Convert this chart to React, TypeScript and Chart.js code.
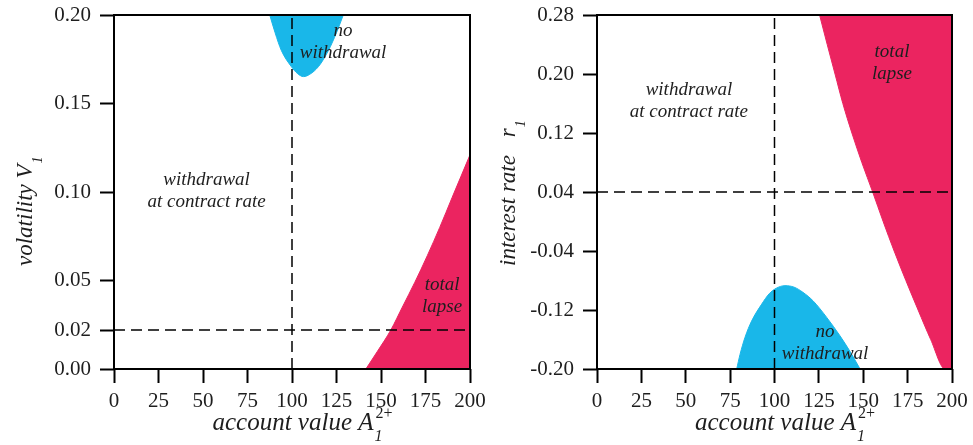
import React, { useEffect, useRef } from "react";
import { Chart, registerables } from "chart.js";

Chart.register(...registerables);

const BLUE = "#19b7e9";
const RED = "#eb2460";
const TEXT = "#1e1e1e";
const SERIF = "'Liberation Serif', 'Times New Roman', serif";

// axes
const xTicks = [0, 25, 50, 75, 100, 125, 150, 175, 200];
const leftYTicks = [0, 0.022, 0.05, 0.1, 0.15, 0.2];
const rightYTicks = [-0.2, -0.12, -0.04, 0.04, 0.12, 0.2, 0.28];

// reference (dashed) lines
const leftRefX = 100;
const leftRefY = 0.022;
const rightRefX = 100;
const rightRefY = 0.04;

// left panel regions (volatility)
const leftNoWithdrawalX = [87.5, 90.5, 94, 99.5, 103, 106.5, 110, 115, 120.5, 125, 128.8];
const leftNoWithdrawalY = [0.2, 0.19, 0.18, 0.171, 0.167, 0.1652, 0.1665, 0.171, 0.18, 0.19, 0.2];
const leftLapseX = [141.5, 148, 155.5, 162, 169, 176, 183, 190, 195, 200];
const leftLapseY = [0, 0.01, 0.022, 0.035, 0.049, 0.064, 0.08, 0.097, 0.109, 0.121];

// right panel regions (interest rate)
const rightNoWithdrawalX = [78.7, 80.6, 83.4, 87.1, 92.8, 97, 101, 105.9, 111, 116, 121.9, 129.4, 136.9, 142.5, 148.2];
const rightNoWithdrawalY = [-0.2, -0.18, -0.157, -0.135, -0.112, -0.098, -0.0905, -0.087, -0.089, -0.096, -0.108, -0.13, -0.155, -0.176, -0.2];
const rightLapseX = [125.4, 129.7, 134.1, 138.5, 143.6, 149.2, 155.3, 161.2, 167.4, 174, 180.9, 188, 196.1, 200];
const rightLapseY = [0.28, 0.24, 0.2, 0.16, 0.12, 0.08, 0.04, 0, -0.04, -0.08, -0.12, -0.16, -0.2, -0.2];

// region labels
const leftLabels = [
  { lines: ["withdrawal", "at contract rate"], x: 52, y: 0.1006 },
  { lines: ["no", "withdrawal"], x: 128.7, y: 0.1847 },
  { lines: ["total", "lapse"], x: 184.3, y: 0.041 },
];
const rightLabels = [
  { lines: ["withdrawal", "at contract rate"], x: 51.8, y: 0.163 },
  { lines: ["total", "lapse"], x: 166.2, y: 0.2154 },
  { lines: ["no", "withdrawal"], x: 128.5, y: -0.1653 },
];

type Panel = {
  yMin: number;
  yMax: number;
  yTicks: number[];
  refX: number;
  refY: number;
  noWdX: number[];
  noWdY: number[];
  noWdFill: string;
  lapseX: number[];
  lapseY: number[];
  lapseFill: string;
  labels: { lines: string[]; x: number; y: number }[];
  yTitle: string;
  ySym: string;
  yGap: number;
  yAxisWidth: number;
  padRight: number;
};

function pts(xs: number[], ys: number[]) {
  return xs.map((x, i) => ({ x, y: ys[i] }));
}

function drawMath(
  ctx: CanvasRenderingContext2D,
  x: number,
  y: number,
  main: string,
  sym: string,
  sub: string,
  sup: string | null,
  size: number,
  center: boolean,
  gap: number
) {
  const mainFont = `italic ${size}px ${SERIF}`;
  const smallSize = Math.round(size * 0.62);
  const subFont = `italic ${smallSize}px ${SERIF}`;
  const supFont = `${smallSize}px ${SERIF}`;
  ctx.font = mainFont;
  const wMain = ctx.measureText(main).width + gap;
  const wSym = ctx.measureText(sym).width;
  ctx.font = subFont;
  const wSub = ctx.measureText(sub).width;
  ctx.font = supFont;
  const wSup = sup ? ctx.measureText(sup).width : 0;
  const total = wMain + wSym + 1 + Math.max(wSub, wSup);
  const x0 = center ? x - total / 2 : x;
  ctx.textAlign = "left";
  ctx.textBaseline = "alphabetic";
  ctx.fillStyle = TEXT;
  ctx.font = mainFont;
  ctx.fillText(main, x0, y);
  ctx.fillText(sym, x0 + wMain, y);
  ctx.font = subFont;
  ctx.fillText(sub, x0 + wMain + wSym + 1, y + size * 0.42);
  if (sup) {
    ctx.font = supFont;
    ctx.fillText(sup, x0 + wMain + wSym + 2, y - size * 0.48);
  }
}

function zeroPad(s: any) {
  s.paddingTop = 0;
  s.paddingBottom = 0;
  s.paddingLeft = 0;
  s.paddingRight = 0;
}

function makeChart(canvas: HTMLCanvasElement, p: Panel) {
  const decor = {
    id: "decor",
    afterDatasetsDraw(chart: any) {
      const ctx = chart.ctx as CanvasRenderingContext2D;
      const xs = chart.scales.x;
      const ys = chart.scales.y;
      const a = chart.chartArea;
      ctx.save();
      ctx.font = `italic 19px ${SERIF}`;
      ctx.fillStyle = TEXT;
      ctx.textAlign = "center";
      ctx.textBaseline = "middle";
      for (const l of p.labels) {
        const cx = xs.getPixelForValue(l.x);
        const cy = ys.getPixelForValue(l.y);
        const n = l.lines.length;
        l.lines.forEach((t, i) => {
          ctx.fillText(t, cx, cy + (i - (n - 1) / 2) * 22);
        });
      }
      ctx.strokeStyle = "#000";
      ctx.lineWidth = 2;
      ctx.strokeRect(a.left, a.top, a.right - a.left, a.bottom - a.top);
      ctx.restore();
    },
    afterDraw(chart: any) {
      const ctx = chart.ctx as CanvasRenderingContext2D;
      const a = chart.chartArea;
      ctx.save();
      drawMath(ctx, (a.left + a.right) / 2 + 10, a.bottom + 61, "account value ", "A", "1", "2+", 25, true, 0);
      ctx.translate(a.left - 82, a.bottom - 103);
      ctx.rotate(-Math.PI / 2);
      drawMath(ctx, 0, 0, p.yTitle, p.ySym, "1", null, 23, false, p.yGap);
      ctx.restore();
    },
  };

  const tickFont = { family: SERIF, size: 21 };

  return new Chart(canvas, {
    type: "line",
    data: {
      datasets: [
        {
          data: [
            { x: 0, y: p.refY },
            { x: 200, y: p.refY },
          ],
          borderColor: "#000",
          borderWidth: 1.5,
          borderDash: [11, 6],
          pointRadius: 0,
          fill: false,
        },
        {
          data: [
            { x: p.refX, y: p.yMin },
            { x: p.refX, y: p.yMax },
          ],
          borderColor: "#000",
          borderWidth: 1.5,
          borderDash: [11, 6],
          pointRadius: 0,
          fill: false,
        },
        {
          data: pts(p.noWdX, p.noWdY),
          borderColor: BLUE,
          backgroundColor: BLUE,
          borderWidth: 1,
          pointRadius: 0,
          cubicInterpolationMode: "monotone",
          fill: p.noWdFill,
        },
        {
          data: pts(p.lapseX, p.lapseY),
          borderColor: RED,
          backgroundColor: RED,
          borderWidth: 1,
          pointRadius: 0,
          cubicInterpolationMode: "monotone",
          fill: p.lapseFill,
        },
      ],
    } as any,
    options: {
      animation: false,
      responsive: false,
      devicePixelRatio: 1,
      layout: { padding: { top: 15, right: p.padRight, left: 0, bottom: 0 } },
      plugins: {
        legend: { display: false },
        tooltip: { enabled: false },
      },
      scales: {
        x: {
          type: "linear",
          min: 0,
          max: 200,
          afterBuildTicks: (s: any) => {
            s.ticks = xTicks.map((v) => ({ value: v }));
          },
          afterFit: (s: any) => {
            s.height = 76;
            zeroPad(s);
          },
          grid: {
            drawOnChartArea: false,
            drawTicks: true,
            tickLength: 14,
            tickWidth: 2,
            tickColor: "#000",
          },
          border: { display: false },
          ticks: {
            font: tickFont,
            color: TEXT,
            padding: 6,
            maxRotation: 0,
            autoSkip: false,
            callback: (v: any) => String(v),
          },
        },
        y: {
          type: "linear",
          min: p.yMin,
          max: p.yMax,
          afterBuildTicks: (s: any) => {
            s.ticks = p.yTicks.map((v) => ({ value: v }));
          },
          afterFit: (s: any) => {
            s.width = p.yAxisWidth;
            zeroPad(s);
          },
          grid: {
            drawOnChartArea: false,
            drawTicks: true,
            tickLength: 14,
            tickWidth: 2,
            tickColor: "#000",
          },
          border: { display: false },
          ticks: {
            font: tickFont,
            color: TEXT,
            padding: 9,
            autoSkip: false,
            callback: (v: any) => Number(v).toFixed(2),
          },
        },
      },
    } as any,
    plugins: [decor],
  });
}

const leftPanel: Panel = {
  yMin: 0,
  yMax: 0.2,
  yTicks: leftYTicks,
  refX: leftRefX,
  refY: leftRefY,
  noWdX: leftNoWithdrawalX,
  noWdY: leftNoWithdrawalY,
  noWdFill: "end",
  lapseX: leftLapseX,
  lapseY: leftLapseY,
  lapseFill: "start",
  labels: leftLabels,
  yTitle: "volatility ",
  ySym: "V",
  yGap: 0,
  yAxisWidth: 114,
  padRight: 17,
};

const rightPanel: Panel = {
  yMin: -0.2,
  yMax: 0.28,
  yTicks: rightYTicks,
  refX: rightRefX,
  refY: rightRefY,
  noWdX: rightNoWithdrawalX,
  noWdY: rightNoWithdrawalY,
  noWdFill: "start",
  lapseX: rightLapseX,
  lapseY: rightLapseY,
  lapseFill: "end",
  labels: rightLabels,
  yTitle: "interest rate ",
  ySym: "r",
  yGap: 12,
  yAxisWidth: 110,
  padRight: 21,
};

function PanelChart({ panel, width }: { panel: Panel; width: number }) {
  const ref = useRef<HTMLCanvasElement>(null);
  useEffect(() => {
    if (!ref.current) return;
    const c = makeChart(ref.current, panel);
    return () => c.destroy();
  }, [panel]);
  return <canvas ref={ref} width={width} height={445} style={{ display: "block", width, height: 445 }} />;
}

export default function App() {
  return (
    <div style={{ position: "absolute", left: 0, top: 0, width: 973, height: 445, background: "#fff" }}>
      <div style={{ position: "absolute", left: 0, top: 0 }}>
        <PanelChart panel={leftPanel} width={487} />
      </div>
      <div style={{ position: "absolute", left: 487, top: 0 }}>
        <PanelChart panel={rightPanel} width={486} />
      </div>
    </div>
  );
}
